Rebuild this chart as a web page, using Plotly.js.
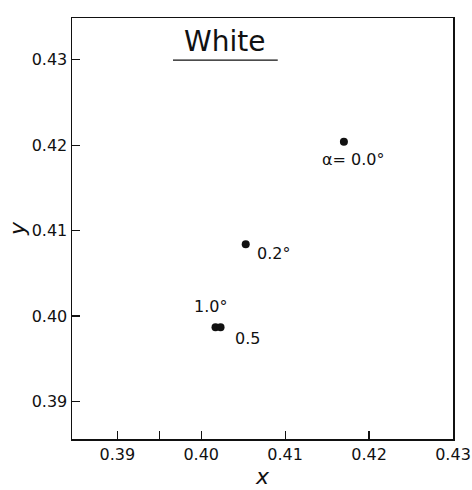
<!DOCTYPE html>
<html>
<head>
<meta charset="utf-8">
<script src="https://cdn.plot.ly/plotly-3.0.1.min.js"></script>
<style>html,body{margin:0;padding:0;background:#fff;}#chart{width:472px;height:490px;}</style>
</head>
<body>
<div id="chart"></div>
<script>
// Data (CIE x, y chromaticity for "White")
const pointX = [0.4170, 0.4053, 0.4017, 0.4023];
const pointY = [0.4204, 0.4084, 0.3987, 0.3987];
const pointLabels = ['α= 0.0°', '0.2°', '1.0°', '0.5'];
const labelShiftX = [9, 28, -5, 27];
const labelShiftY = [-18, -9, 21, -11];

const xTickVals = [0.39, 0.395, 0.40, 0.41, 0.42, 0.43];
const xTickText = ['0.39', '', '0.40', '0.41', '0.42', '0.43'];
const yTickVals = [0.39, 0.40, 0.41, 0.42, 0.43];
const yTickText = ['0.39', '0.40', '0.41', '0.42', '0.43'];

const FONT = 'DejaVu Sans, Liberation Sans, sans-serif';

const trace = {
  type: 'scatter',
  mode: 'markers',
  x: pointX,
  y: pointY,
  marker: {color: '#111', size: 8},
  hoverinfo: 'skip',
  showlegend: false
};

const annotations = pointX.map((x, i) => ({
  x: x, y: pointY[i], xref: 'x', yref: 'y',
  text: pointLabels[i], showarrow: false,
  xshift: labelShiftX[i], yshift: labelShiftY[i],
  font: {family: FONT, size: 16, color: '#111'}
}));

annotations.push({
  xref: 'paper', yref: 'paper', x: 0.399, y: 0.945,
  xanchor: 'center', yanchor: 'middle',
  text: 'White', showarrow: false,
  font: {family: FONT, size: 28, color: '#111'}
});

const layout = {
  width: 472, height: 490,
  margin: {l: 72, r: 19, t: 18, b: 51},
  paper_bgcolor: '#fff', plot_bgcolor: '#fff',
  font: {family: FONT, color: '#111'},
  xaxis: {
    range: [0.3846, 0.43],
    tickvals: xTickVals, ticktext: xTickText,
    ticks: 'inside', ticklen: 8, tickwidth: 1.2, tickcolor: '#111',
    showgrid: false, zeroline: false,
    showline: true, linecolor: '#111', linewidth: 1.5, mirror: true,
    tickfont: {family: FONT, size: 16, color: '#111'},
    title: {text: '<i>x</i>', font: {family: FONT, size: 22, color: '#111'}, standoff: 6}
  },
  yaxis: {
    range: [0.3856, 0.4349],
    tickvals: yTickVals, ticktext: yTickText,
    ticks: 'inside', ticklen: 8, tickwidth: 1.2, tickcolor: '#111',
    showgrid: false, zeroline: false,
    showline: true, linecolor: '#111', linewidth: 1.5, mirror: true,
    tickfont: {family: FONT, size: 16, color: '#111'},
    title: {text: '<i>y</i>', font: {family: FONT, size: 22, color: '#111'}, standoff: 0}
  },
  shapes: [{
    type: 'line', xref: 'paper', yref: 'paper',
    x0: 0.265, x1: 0.54, y0: 0.900, y1: 0.900,
    line: {color: '#111', width: 1.2}
  }],
  annotations: annotations
};

Plotly.newPlot('chart', [trace], layout, {displayModeBar: false, staticPlot: true});
</script>
</body>
</html>
